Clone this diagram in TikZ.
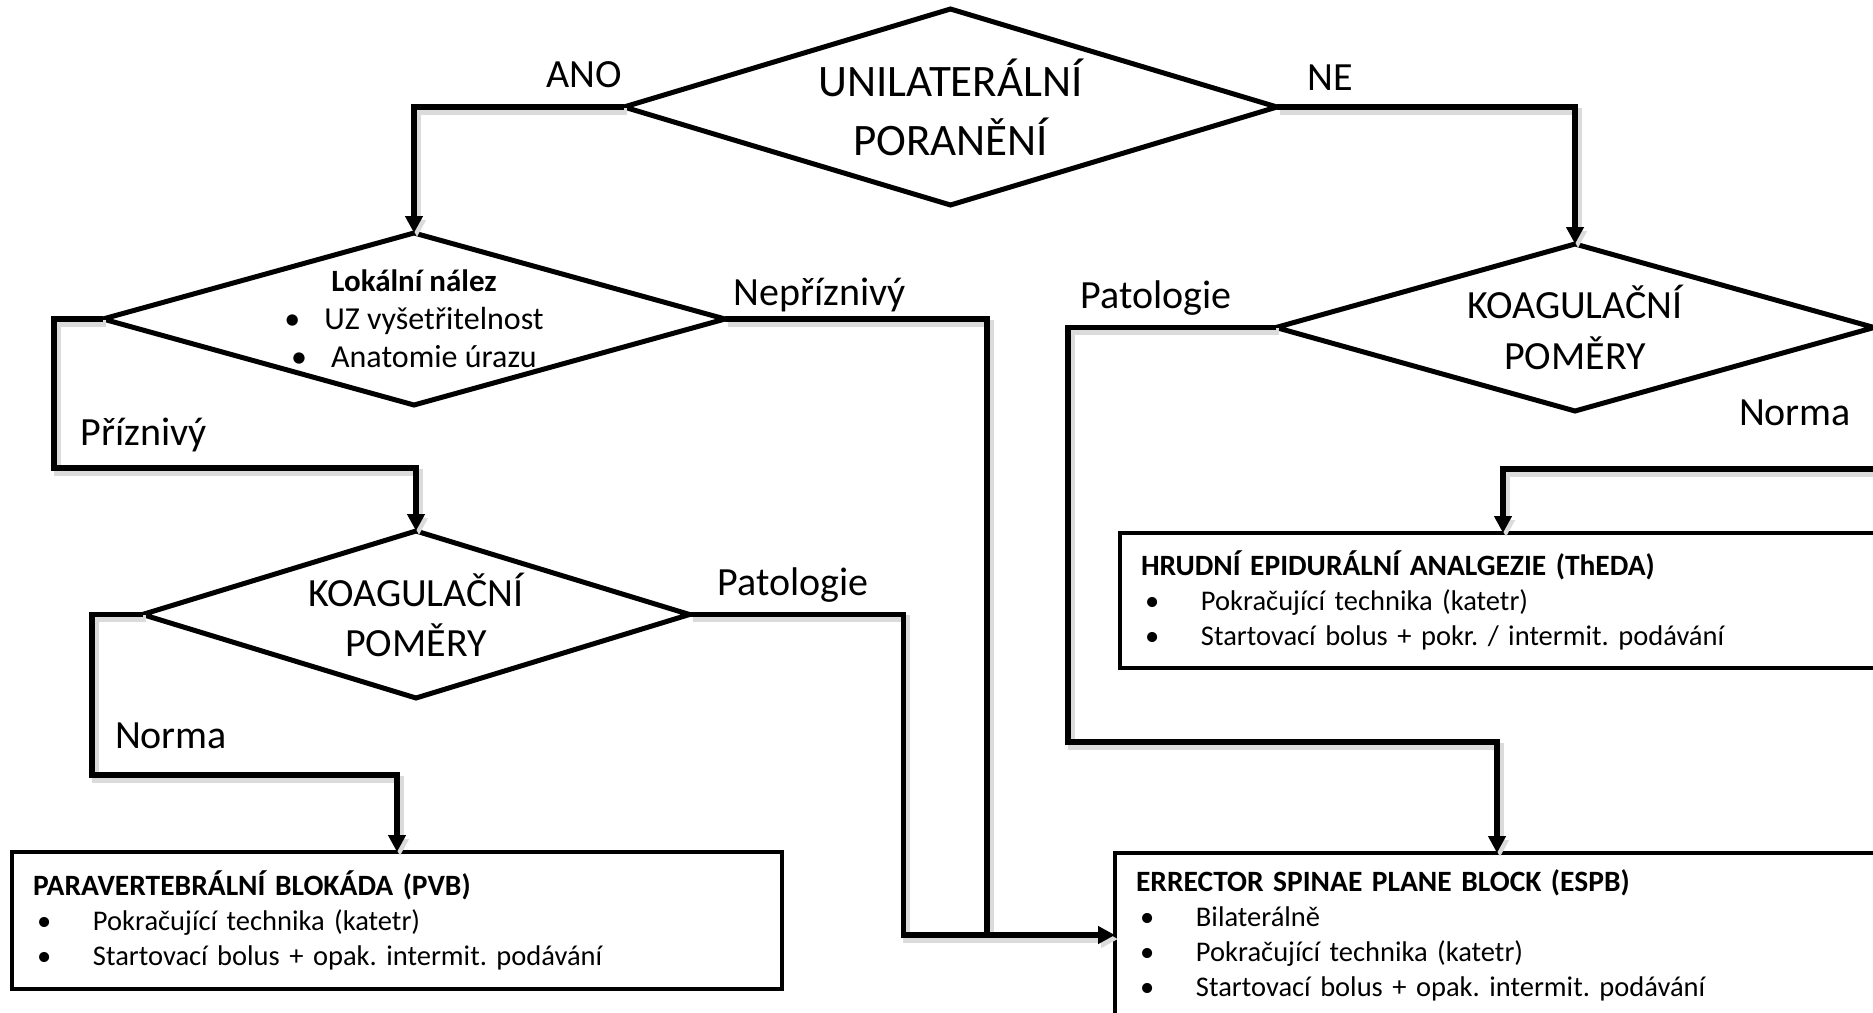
\documentclass[tikz,border=0pt]{standalone}
\usepackage{fontspec}
\setmainfont{Carlito}
\usepackage{tikz}
\usetikzlibrary{shapes.geometric, arrows.meta, positioning, calc}
\tikzset{
  decision/.style={draw, shape=diamond, line width=5pt, inner sep=0pt, outer sep=0pt, align=center},
  result/.style={draw, rectangle, line width=4pt, anchor=north west, inner xsep=21pt, inner ysep=0pt, outer sep=0pt, align=left, font=\fontsize{28.5pt}{35pt}\selectfont},
  answer/.style={anchor=base, inner sep=0pt, font=\fontsize{40pt}{48pt}\selectfont},
  link/.style={line width=5.5pt, line join=miter, preaction={draw=black!14, line width=7pt, transform canvas={shift={(3pt,-4pt)}}}},
  arrowed/.style={-{Triangle[length=17pt,width=17pt]}}
}
\newcommand{\itm}[1]{\hspace*{4pt}\makebox[56pt][l]{•}#1}
\newcommand{\head}[1]{{\fontsize{29.5pt}{35pt}\selectfont\bfseries #1}}
\frenchspacing

\begin{document}
\begin{tikzpicture}[x=1pt, y=-1pt]
	\useasboundingbox (0,0) rectangle (1873,1012);
	\clip (0,0) rectangle (1873,1012);
	%decisions
	\node[decision, aspect=3.33, minimum width=653pt, minimum height=196pt, font=\fontsize{45pt}{59pt}\selectfont] (inj) at (950.5,107) {UNILATERÁLNÍ\\PORANĚNÍ};
	\node[decision, aspect=3.6, minimum width=622pt, minimum height=172pt, inner sep=-24pt, font=\fontsize{32pt}{38pt}\selectfont] (lok) at (414,319) {{\fontsize{31pt}{38pt}\selectfont\bfseries Lokální nález}\\•\hspace{24pt}UZ vyšetřitelnost\\•\hspace{24pt}Anatomie úrazu};
	\node[decision, aspect=3.28, minimum width=547pt, minimum height=167pt, font=\fontsize{40pt}{50pt}\selectfont] (koagL) at (416,614.5) {KOAGULAČNÍ\\POMĚRY};
	\node[decision, aspect=3.58, minimum width=598pt, minimum height=167pt, font=\fontsize{40pt}{51pt}\selectfont] (koagR) at (1575,327.5) {KOAGULAČNÍ\\POMĚRY};
	%results
	\node[result, minimum width=770pt, minimum height=137pt, text width=728pt] (pvb) at (12,852) {\head{PARAVERTEBRÁLNÍ BLOKÁDA (PVB)}\\\itm{Pokračující technika (katetr)}\\\itm{Startovací bolus + opak. intermit. podávání}};
	\node[result, minimum width=766pt, minimum height=135pt, text width=724pt] (theda) at (1120,533) {\head{HRUDNÍ EPIDURÁLNÍ ANALGEZIE (ThEDA)}\\\itm{Pokračující technika (katetr)}\\\itm{Startovací bolus + pokr. / intermit. podávání}};
	\node[result, minimum width=764pt, minimum height=164pt, text width=722pt] (espb) at (1115,853) {\head{ERRECTOR SPINAE PLANE BLOCK (ESPB)}\\\itm{Bilaterálně}\\\itm{Pokračující technika (katetr)}\\\itm{Startovací bolus + opak. intermit. podávání}};
	%answers
	\node[answer] (ano) at (584,87) {ANO};
	\node[answer] (ne) at (1330,90) {NE};
	\node[answer] (nepriz) at (820,305) {Nepříznivý};
	\node[answer] (priz) at (144,445) {Příznivý};
	\node[answer] (patL) at (793,595) {Patologie};
	\node[answer] (normL) at (171,748) {Norma};
	\node[answer] (patR) at (1156,308) {Patologie};
	\node[answer] (normR) at (1795,425) {Norma};
	%bends
	\coordinate (cPriz) at (54,468);
	\coordinate (cNormL) at (92,775);
	\coordinate (cPatR) at (1068,742);
	\coordinate (cNormR) at (1900,469);
	\coordinate (cNep) at ($(espb.west)+(-128,0)$);
	%connectors
	\draw[link, arrowed] (inj.west) -| (lok.north);
	\draw[link, arrowed] (inj.east) -| (koagR.north);
	\draw[link, arrowed] (lok.west) -| (cPriz) -| (koagL.north);
	\draw[link] (lok.east) -| (cNep);
	\draw[link, arrowed] (koagL.east) -- ++(214,0) |- (espb.west);
	\draw[link, arrowed] (koagL.west) -| (cNormL) -| (pvb.north);
	\draw[link, arrowed] (koagR.west) -| (cPatR) -| (espb.north);
	\draw[link, arrowed] (koagR.east) -| (cNormR) -| (theda.north);
\end{tikzpicture}
\end{document}
